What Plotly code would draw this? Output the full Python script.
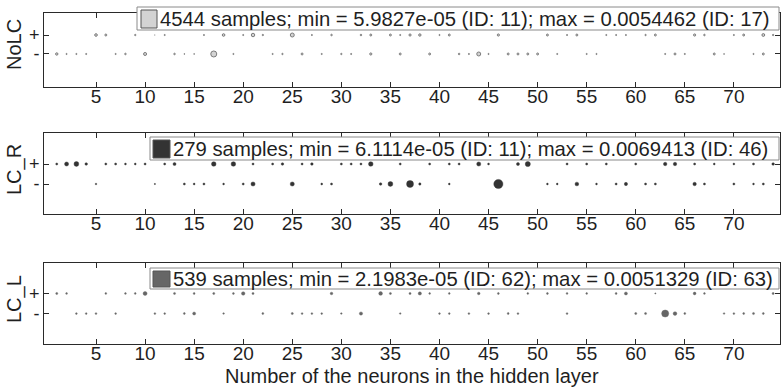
import plotly.graph_objects as go

# Hidden-layer sizes (x) and error values (x 1e-3) for the "+" and "-" groups
nolc_plus_x = [5, 6, 9, 11, 12, 16, 18, 20, 21, 22, 25, 27, 29, 32, 33, 35, 36, 37, 38, 40, 41,
               46, 51, 53, 54, 57, 58, 59, 61, 62, 66, 67, 70, 71, 73, 74]
nolc_plus_v = [2.2, 1.6, 1.0, 0.059827, 0.8, 0.8, 2.2, 0.8, 3.0, 1.0, 3.5, 0.8, 1.2, 1.2, 1.6, 1.6,
               0.8, 1.8, 2.0, 0.8, 1.6, 1.8, 1.6, 0.8, 1.6, 0.8, 0.8, 0.8, 1.0, 1.6, 1.8, 1.2, 0.8,
               1.6, 2.4, 1.0]
nolc_minus_x = [1, 2, 3, 4, 7, 8, 10, 13, 14, 15, 17, 19, 23, 24, 26, 28, 30, 31, 33, 36, 39, 42,
                43, 44, 45, 47, 48, 49, 50, 52, 55, 56, 63, 64, 65, 68, 69, 72, 73]
nolc_minus_v = [2.0, 0.8, 0.8, 0.8, 0.8, 1.2, 2.6, 1.2, 0.5, 0.5, 5.4462, 0.8, 0.8, 1.0, 1.6, 0.8,
                1.0, 0.8, 1.8, 1.6, 1.6, 1.2, 0.8, 3.5, 0.8, 1.6, 1.6, 1.6, 1.6, 0.8, 0.8, 0.8, 0.8,
                1.6, 0.8, 1.6, 0.5, 0.8, 1.6]

lcr_plus_x = [1, 2, 3, 4, 6, 7, 8, 9, 10, 12, 13, 17, 19, 21, 23, 24, 26, 27, 30, 31, 32, 33, 36,
              39, 41, 42, 44, 45, 48, 49, 53, 55, 57, 60, 63, 64, 66, 68, 70, 72, 74]
lcr_plus_v = [0.8, 2.5, 3.2, 1.2, 0.8, 0.8, 0.6, 0.6, 0.8, 0.8, 1.6, 3.0, 3.0, 0.8, 0.8, 1.2, 0.8,
              1.2, 0.8, 0.8, 0.8, 3.0, 0.8, 0.8, 0.8, 0.8, 2.6, 0.6, 1.6, 3.4, 0.8, 0.8, 0.8, 0.8,
              2.0, 2.0, 0.8, 0.6, 0.6, 0.8, 1.2]
lcr_minus_x = [5, 11, 14, 15, 16, 18, 20, 21, 25, 28, 29, 34, 35, 37, 38, 41, 46, 51, 52, 54, 56,
               58, 59, 61, 62, 66, 67, 70, 72, 73]
lcr_minus_v = [0.4, 0.061114, 0.8, 0.6, 0.8, 0.5, 0.8, 2.6, 2.6, 0.6, 0.8, 1.2, 3.2, 5.0, 1.0, 0.5,
               6.9413, 0.5, 0.5, 2.2, 0.5, 0.8, 1.8, 0.8, 0.8, 2.0, 0.8, 0.8, 0.5, 0.8]

lcl_plus_x = [1, 2, 6, 8, 9, 10, 13, 15, 17, 19, 20, 21, 29, 34, 35, 37, 38, 39, 41, 44, 46, 49,
              51, 53, 55, 58, 59, 62, 66, 67, 74]
lcl_plus_v = [0.8, 0.5, 0.5, 0.5, 0.5, 2.4, 0.8, 0.6, 0.8, 0.6, 2.0, 0.8, 1.2, 2.2, 0.8, 0.8, 1.8,
              0.5, 0.5, 1.2, 0.6, 0.5, 0.6, 0.5, 0.5, 0.6, 1.6, 0.021983, 1.4, 0.5, 0.8]
lcl_minus_x = [3, 4, 5, 7, 11, 12, 14, 15, 18, 22, 25, 26, 27, 28, 30, 32, 36, 40, 41, 43, 45, 47,
               48, 53, 60, 61, 63, 64, 65, 69, 70, 71, 72, 73]
lcl_minus_v = [0.5, 0.5, 0.5, 0.5, 0.5, 0.5, 0.6, 1.6, 0.4, 0.6, 0.8, 0.5, 0.5, 0.5, 0.4, 1.8, 0.4,
               0.5, 0.5, 0.5, 0.5, 0.6, 0.5, 0.5, 0.8, 0.8, 5.1329, 2.2, 0.6, 0.4, 0.5, 0.6, 0.8,
               0.6]

panel_names = ["NoLC", "LC_R", "LC_L"]
sample_counts = [4544, 279, 539]
x_ticks = [5, 10, 15, 20, 25, 30, 35, 40, 45, 50, 55, 60, 65, 70]
row_labels = ["+", "-"]

panels = [
    (nolc_plus_x, nolc_plus_v, nolc_minus_x, nolc_minus_v),
    (lcr_plus_x, lcr_plus_v, lcr_minus_x, lcr_minus_v),
    (lcl_plus_x, lcl_plus_v, lcl_minus_x, lcl_minus_v),
]

fill_colors = ["#d3d3d3", "#333333", "#666666"]
edge_colors = ["#707070", "#333333", "#666666"]

W, H = 782, 390
ML, MR = 44, 2
FONT = "Liberation Sans, Arial, sans-serif"
INK = "#1f1f1f"


def px_x(p):
    return (p - ML) / (W - ML - MR)


def px_y(p):
    return 1 - p / H


# axes boxes (top, bottom) in pixels and y ranges ("+" = 1, "-" = 0)
boxes = [(13, 87), (133, 214), (263, 344)]
y_ranges = [[-1.74, 2.16], [-1.5, 2.55], [-1.52, 2.52]]
title_centres = [45, 170, 299]
legend_boxes = [(137, 7, 30, 141, 157), (150, 137, 160, 153, 170), (150, 268, 289, 153, 170)]


def marker_size(v, hollow):
    if hollow:
        return 0.3 + 1.05 * v
    return 1.2 + 1.15 * v


fig = go.Figure()
annotations = []
shapes = []
layout = {}

for i, (px, pv, mx, mv) in enumerate(panels):
    k = "" if i == 0 else str(i + 1)
    xs = px + mx
    ys = [1] * len(px) + [0] * len(mx)
    vs = pv + mv
    hollow = i == 0
    fig.add_trace(go.Scatter(
        x=xs, y=ys, mode="markers", xaxis="x" + k, yaxis="y" + k,
        marker=dict(size=[marker_size(v, hollow) for v in vs], color=fill_colors[i], opacity=1,
                    line=dict(color=edge_colors[i], width=0.9 if hollow else 0.4)),
        showlegend=False, hoverinfo="x+y",
    ))

    top, bot = boxes[i]
    axis_common = dict(showline=True, linecolor="#2a2a2a", linewidth=1, mirror="ticks",
                       ticks="inside", ticklen=5, tickcolor="#2a2a2a", showgrid=False,
                       zeroline=False, tickfont=dict(family=FONT, size=19, color=INK))
    layout["xaxis" + k] = dict(axis_common, domain=[0, 1], range=[-0.3, 74.7],
                               tickvals=x_ticks, anchor="y" + k, ticklabelstandoff=-8)
    layout["yaxis" + k] = dict(axis_common, domain=[px_y(bot), px_y(top)], range=y_ranges[i],
                               tickvals=[1, 0], ticktext=row_labels, anchor="x" + k,
                               tickfont=dict(family=FONT, size=18, color=INK))

    # panel name on the left
    annotations.append(dict(text=panel_names[i], xref="paper", yref="paper",
                            x=px_x(14), y=px_y(title_centres[i]), textangle=-90,
                            showarrow=False, xanchor="center", yanchor="middle",
                            font=dict(family=FONT, size=20, color=INK)))

    # summary box
    allv = pv + mv
    allx = px + mx
    imin = min(range(len(allv)), key=lambda j: allv[j])
    imax = max(range(len(allv)), key=lambda j: allv[j])
    text = (f"{sample_counts[i]} samples; min = {allv[imin] * 1e-3:.5g} (ID: {allx[imin]}); "
            f"max = {allv[imax] * 1e-3:.5g} (ID: {allx[imax]})")
    bl, bt, bb, sl, sr = legend_boxes[i]
    shapes.append(dict(type="rect", xref="paper", yref="paper", x0=px_x(bl), x1=px_x(779),
                       y0=px_y(bb), y1=px_y(bt), line=dict(color="#8a8a8a", width=1),
                       fillcolor="white", layer="above"))
    shapes.append(dict(type="rect", xref="paper", yref="paper", x0=px_x(sl), x1=px_x(sr),
                       y0=px_y(bb - 2), y1=px_y(bt + 3), line=dict(color="#555555", width=1),
                       fillcolor=fill_colors[i], layer="above"))
    annotations.append(dict(text=text, xref="paper", yref="paper", x=px_x(sr + 0.5),
                            y=px_y((bt + bb) / 2 + 0.5), showarrow=False, xanchor="left",
                            yanchor="middle", font=dict(family=FONT, size=20.3, color=INK)))

annotations.append(dict(text="Number of the neurons in the hidden layer", xref="paper",
                        yref="paper", x=0.5, y=px_y(376), showarrow=False, xanchor="center",
                        yanchor="middle", font=dict(family=FONT, size=20, color=INK)))

fig.update_layout(
    width=W, height=H, margin=dict(l=ML, r=MR, t=0, b=0, autoexpand=False),
    plot_bgcolor="white", paper_bgcolor="white",
    annotations=annotations, shapes=shapes, **layout,
)

fig.write_html("out.html")
